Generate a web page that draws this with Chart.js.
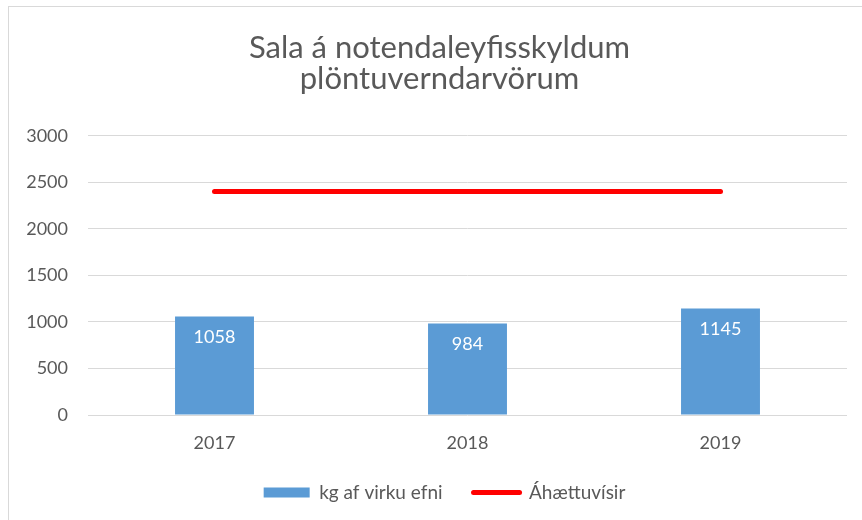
<!DOCTYPE html>
<html>
<head>
<meta charset="utf-8">
<script src="https://cdn.jsdelivr.net/npm/chart.js@4/dist/chart.umd.min.js"></script>
<style>
  html, body { margin: 0; padding: 0; background: #fff; overflow: hidden; }
  #frame { position: absolute; left: 8px; top: 6px; width: 900px; height: 600px; border: 1px solid #d9d9d9; }
  #wrap { position: absolute; left: 0; top: 0; width: 862px; height: 520px; }
</style>
</head>
<body>
<div id="frame"></div>
<div id="wrap"><canvas id="chart" width="862" height="520"></canvas></div>
<script>
// --- data ---
const years = ['2017', '2018', '2019'];
const kgValues = [1058, 984, 1145];
const riskValues = [2400, 2400, 2400];
const titleLines = ['Sala á notendaleyfisskyldum', 'plöntuverndarvörum'];
const seriesNames = ['kg af virku efni', 'Áhættuvísir'];

const textColor = '#595959';
const fontFamily = 'Lato, "Open Sans", sans-serif';

// white value labels inside the bars
const barLabels = {
  id: 'barLabels',
  afterLayout(chart) {
    // title and legend sit a little right of the canvas centre in the original
    chart.titleBlock.left += 16;
    chart.titleBlock.right += 16;
    chart.legend.left += 21;
    chart.legend.right += 21;
  },
  afterDatasetsDraw(chart) {
    const meta = chart.getDatasetMeta(1);
    const ctx = chart.ctx;
    ctx.save();
    ctx.fillStyle = '#ffffff';
    ctx.font = `18px ${fontFamily}`;
    ctx.textAlign = 'center';
    ctx.textBaseline = 'middle';
    meta.data.forEach((bar, i) => {
      ctx.fillText(String(kgValues[i]), bar.x, bar.y + 21);
    });
    ctx.restore();
  }
};

new Chart(document.getElementById('chart').getContext('2d'), {
  data: {
    labels: years,
    datasets: [
      {
        type: 'line',
        label: seriesNames[1],
        data: riskValues,
        borderColor: '#ff0000',
        borderWidth: 5,
        borderCapStyle: 'round',
        pointRadius: 0,
        order: 0
      },
      {
        type: 'bar',
        label: seriesNames[0],
        data: kgValues,
        backgroundColor: '#5b9bd5',
        barPercentage: 0.312,
        categoryPercentage: 1,
        order: 1
      }
    ]
  },
  options: {
    responsive: false,
    animation: false,
    layout: { padding: { left: 0, right: 15, top: 0, bottom: 8 } },
    plugins: {
      title: {
        display: true,
        text: titleLines,
        color: textColor,
        font: { family: fontFamily, size: 31, weight: 'normal', lineHeight: 1.02 },
        padding: { top: 32, bottom: 40.5 }
      },
      legend: {
        position: 'bottom',
        labels: {
          usePointStyle: true,
          pointStyleWidth: 46,
          boxHeight: 10,
          padding: 31,
          color: textColor,
          font: { family: fontFamily, size: 19, lineHeight: 1 },
          generateLabels: chart => [
            { text: seriesNames[0], fillStyle: '#5b9bd5', strokeStyle: '#5b9bd5', lineWidth: 0, pointStyle: 'rect', rotation: 0, datasetIndex: 1, fontColor: textColor },
            { text: seriesNames[1], fillStyle: '#ff0000', strokeStyle: '#ff0000', lineWidth: 5, lineCap: 'round', pointStyle: 'line', rotation: 0, datasetIndex: 0, fontColor: textColor }
          ]
        }
      },
      tooltip: { enabled: false }
    },
    scales: {
      x: {
        offset: true,
        grid: { display: false },
        border: { display: false },
        ticks: { color: textColor, font: { family: fontFamily, size: 18 }, padding: 9 },
        afterFit(scale) { scale.height = 37; }
      },
      y: {
        min: 0,
        max: 3000,
        ticks: {
          stepSize: 500,
          color: textColor,
          font: { family: fontFamily, size: 18 },
          padding: 20,
          callback: v => String(v)
        },
        grid: { color: '#d9d9d9', drawTicks: false },
        border: { display: false },
        afterFit(scale) { scale.width = 88; }
      }
    }
  },
  plugins: [barLabels]
});
</script>
</body>
</html>
